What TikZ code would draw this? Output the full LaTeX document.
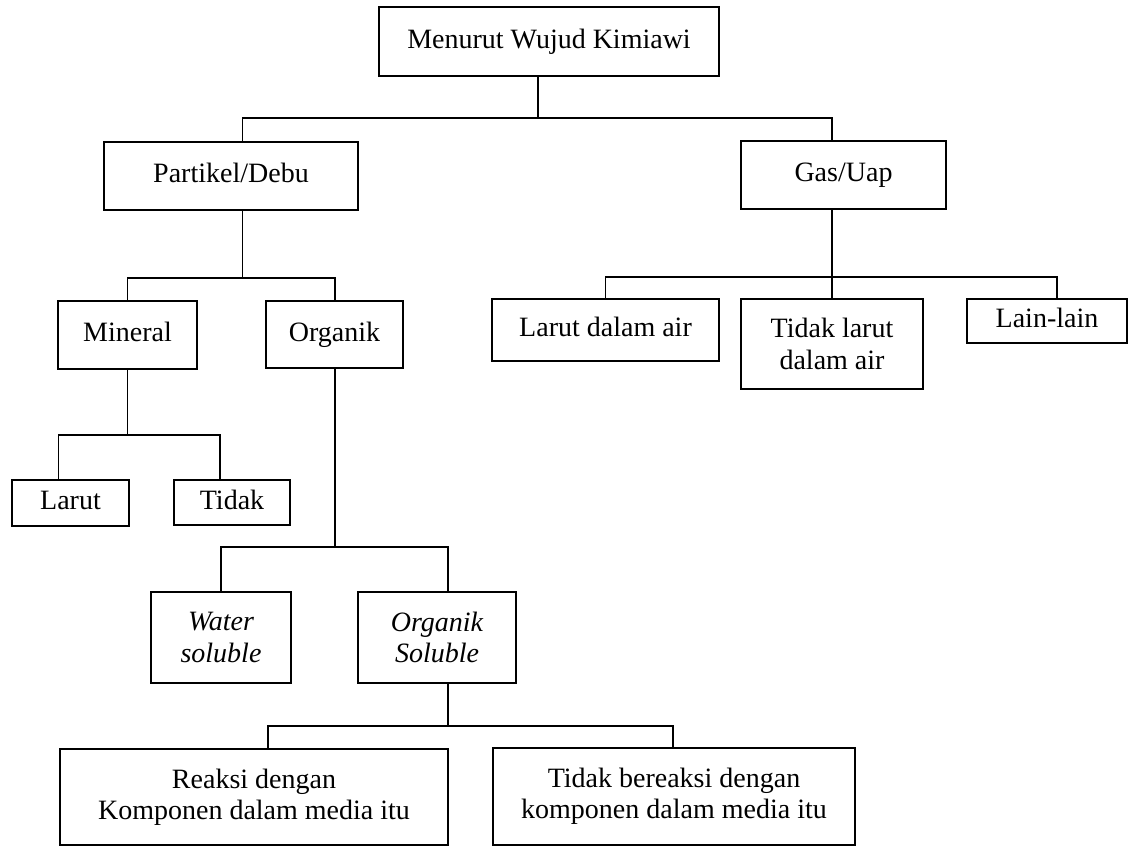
\documentclass[tikz,border=0pt]{standalone}
\usepackage{fontspec}
\setmainfont{Liberation Serif}
\begin{document}
\begin{tikzpicture}[x=0.75pt,y=-0.75pt,
  nbox/.style={draw, line width=1.1pt, inner sep=0pt, align=center,
    font=\fontsize{21}{23.5}\selectfont},
  oneline/.style={text height=14.5pt, text depth=4.6pt},
  conn/.style={line width=1.1pt}]
\useasboundingbox (0,0) rectangle (1130,847);

% nodes
\node[nbox, oneline, minimum width=255pt, minimum height=51.75pt] (M) at (549,41.5) {Menurut Wujud Kimiawi};
\node[nbox, oneline, minimum width=190.5pt, minimum height=51pt] (P) at (231,176) {Partikel/Debu};
\node[nbox, oneline, minimum width=153.75pt, minimum height=51pt] (G) at (843.5,175) {Gas/Uap};
\node[nbox, oneline, minimum width=104.25pt, minimum height=51pt] (Mi) at (127.5,335) {Mineral};
\node[nbox, oneline, minimum width=102.75pt, minimum height=50.25pt] (O) at (334.5,334.5) {Organik};
\node[nbox, oneline, minimum width=170.25pt, minimum height=46.5pt] (LA) at (605.5,330) {Larut dalam air};
\node[nbox, minimum width=136.5pt, minimum height=67.5pt] (TL) at (832,344) {Tidak larut\\dalam air};
\node[nbox, oneline, minimum width=120pt, minimum height=33pt] (LL) at (1047,321) {Lain-lain};
\node[nbox, oneline, minimum width=87.75pt, minimum height=34.5pt] (L) at (70.5,503) {Larut};
\node[nbox, oneline, minimum width=87pt, minimum height=33.75pt] (T) at (232,502.5) {Tidak};
\node[nbox, minimum width=105pt, minimum height=68.25pt] (W) at (221,637.5) {\itshape Water\\\itshape soluble};
\node[nbox, minimum width=118.5pt, minimum height=68.25pt] (OS) at (437,637.5) {\itshape Organik\\\itshape Soluble};
\node[nbox, minimum width=291pt, minimum height=72pt] (R) at (254,797) {Reaksi dengan\\Komponen dalam media itu};
\node[nbox, minimum width=271.5pt, minimum height=72.75pt] (TB) at (674,796.5) {Tidak bereaksi dengan\\komponen dalam media itu};

% level 1
\coordinate (j1) at (538,118);
\coordinate (pP) at (242.5,118);
\coordinate (pG) at (832,118);
\draw[conn] (M.south -| j1) -- (j1);
\draw[conn] (P.north -| pP) -- (pP) -- (pG) -- (G.north -| pG);

% Partikel children
\coordinate (kP) at (242.5,278);
\coordinate (mA) at (127.5,278);
\coordinate (oA) at (335,278);
\draw[conn] (P.south -| kP) -- (kP);
\draw[conn] (Mi.north -| mA) -- (mA) -- (oA) -- (O.north -| oA);

% Gas children
\coordinate (gK) at (832,277);
\coordinate (a1) at (605.5,277);
\coordinate (a3) at (1057,277);
\draw[conn] (G.south -| gK) -- (TL.north -| gK);
\draw[conn] (LA.north -| a1) -- (a1) -- (a3) -- (LL.north -| a3);

% Mineral children
\coordinate (mK) at (127.5,435);
\coordinate (lA) at (58.5,435);
\coordinate (tA) at (220,435);
\draw[conn] (Mi.south -| mK) -- (mK);
\draw[conn] (L.north -| lA) -- (lA) -- (tA) -- (T.north -| tA);

% Organik children
\coordinate (oK) at (335,547);
\coordinate (wA) at (221,547);
\coordinate (sA) at (448,547);
\draw[conn] (O.south -| oK) -- (oK);
\draw[conn] (W.north -| wA) -- (wA) -- (sA) -- (OS.north -| sA);

% Organik Soluble children
\coordinate (sK) at (448,726);
\coordinate (rA) at (268,726);
\coordinate (bA) at (673,726);
\draw[conn] (OS.south -| sK) -- (sK);
\draw[conn] (R.north -| rA) -- (rA) -- (bA) -- (TB.north -| bA);
\end{tikzpicture}
\end{document}
